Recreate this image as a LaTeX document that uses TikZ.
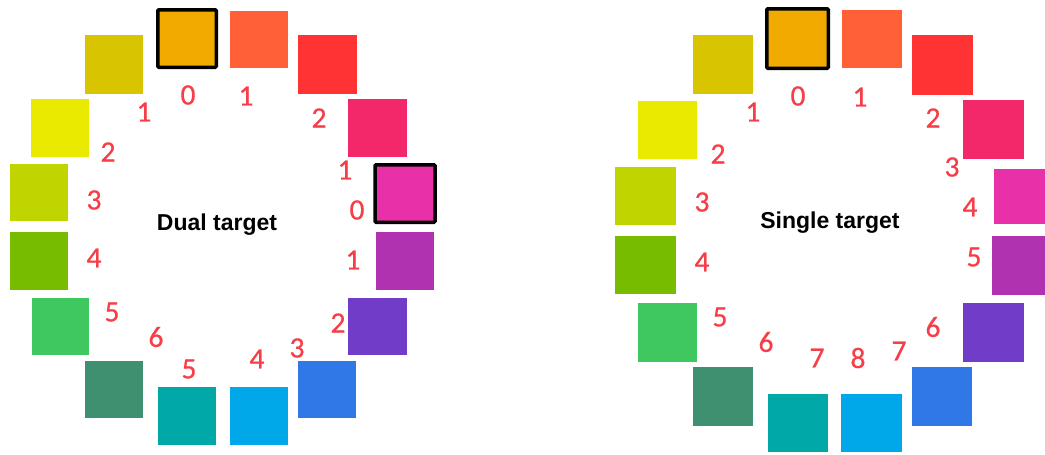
\documentclass[tikz,border=0pt]{standalone}
\usepackage{fontspec}
\setmainfont{Carlito}
\newfontfamily\titlefont{Liberation Sans}
\newfontfamily\numfont[FakeBold=0.6]{Carlito}
\definecolor{cOrange}{RGB}{240,170,0}
\definecolor{cOrangeRed}{RGB}{255,96,56}
\definecolor{cRed}{RGB}{255,51,51}
\definecolor{cPink}{RGB}{242,40,106}
\definecolor{cMagenta}{RGB}{232,48,168}
\definecolor{cPurpleMag}{RGB}{176,50,176}
\definecolor{cPurple}{RGB}{112,60,200}
\definecolor{cBlue}{RGB}{48,120,232}
\definecolor{cSky}{RGB}{0,168,234}
\definecolor{cTeal}{RGB}{0,168,168}
\definecolor{cDarkGreen}{RGB}{62,144,112}
\definecolor{cGreen}{RGB}{64,200,96}
\definecolor{cLime}{RGB}{120,188,0}
\definecolor{cYellowGreen}{RGB}{192,212,0}
\definecolor{cYellow}{RGB}{234,234,0}
\definecolor{cOlive}{RGB}{216,196,0}
\definecolor{cLabel}{RGB}{245,62,72}
\tikzset{
  sqL/.style={rectangle, inner sep=0pt, minimum width=58pt, minimum height=58pt, draw=none},
  sqR/.style={rectangle, inner sep=0pt, minimum width=60pt, minimum height=59pt, draw=none},
  target/.style={draw=black, line width=3.5pt, rounded corners=1pt},
  num/.style={inner sep=0pt, text=cLabel, font=\numfont\fontsize{29.5}{31}\selectfont},
  title/.style={inner sep=0pt, anchor=base, font=\titlefont\bfseries\fontsize{23}{26}\selectfont}
}
\begin{document}
\begin{tikzpicture}[x=1pt,y=-1pt]
\useasboundingbox (0,0) rectangle (1045,455);
\begin{scope}
\clip (0,0) rectangle (1045,455);
% ---------------- left ring: Dual target ----------------
\node[sqL, fill=cOrange, target, minimum width=58.5pt, minimum height=57.5pt] (L0) at (187,38.5) {};
\node[sqL, fill=cOrangeRed, minimum height=57pt] (L1) at (259,39.5) {};
\node[sqL, fill=cRed, minimum width=59pt, minimum height=59pt] (L2) at (327.5,64.5) {};
\node[sqL, fill=cPink, minimum width=59pt] (L3) at (377.5,128) {};
\node[sqL, fill=cMagenta, target, minimum width=60pt, minimum height=57.5pt] (L4) at (405,193.5) {};
\node[sqL, fill=cPurpleMag] (L5) at (405,261) {};
\node[sqL, fill=cPurple, minimum width=59pt, minimum height=57pt] (L6) at (377.5,326.5) {};
\node[sqL, fill=cBlue, minimum height=57pt] (L7) at (327,389.5) {};
\node[sqL, fill=cSky] (L8) at (259,416) {};
\node[sqL, fill=cTeal] (L9) at (187,416) {};
\node[sqL, fill=cDarkGreen, minimum height=57pt] (L10) at (114,389.5) {};
\node[sqL, fill=cGreen, minimum width=57pt, minimum height=57pt] (L11) at (60.5,326.5) {};
\node[sqL, fill=cLime] (L12) at (39,261) {};
\node[sqL, fill=cYellowGreen, minimum height=57pt] (L13) at (39,192.5) {};
\node[sqL, fill=cYellow] (L14) at (60,128) {};
\node[sqL, fill=cOlive, minimum height=59pt] (L15) at (114,64.5) {};
% labels
\node[num] (l0) at (188,95) {0};
\node[num] (l1) at (246,96) {1};
\node[num] (l2) at (319,118) {2};
\node[num] (l3) at (345,170) {1};
\node[num] (l4) at (357,210) {0};
\node[num] (l5) at (353,260) {1};
\node[num] (l6) at (338,323) {2};
\node[num] (l7) at (297,348) {3};
\node[num] (l8) at (257,359) {4};
\node[num] (l9) at (189,369) {5};
\node[num] (l10) at (156,337) {6};
\node[num] (l11) at (112,312) {5};
\node[num] (l12) at (94,258) {4};
\node[num] (l13) at (94,200) {3};
\node[num] (l14) at (108,152) {2};
\node[num] (l15) at (144,112) {1};
\node[title] (tL) at (217,230) {Dual target};
% ---------------- right ring: Single target ----------------
\node[sqR, fill=cOrange, target, minimum width=61.5pt, minimum height=59.5pt] (R0) at (797.5,38.5) {};
\node[sqR, fill=cOrangeRed, minimum height=58pt] (R1) at (872,39) {};
\node[sqR, fill=cRed, minimum width=61pt, minimum height=60pt] (R2) at (942.5,65) {};
\node[sqR, fill=cPink, minimum width=61pt] (R3) at (993.5,129.5) {};
\node[sqR, fill=cMagenta, minimum height=55pt] (R4) at (1024,196.5) {};
\node[sqR, fill=cPurpleMag] (R5) at (1022,265.5) {};
\node[sqR, fill=cPurple, minimum width=61pt] (R6) at (993.5,332.5) {};
\node[sqR, fill=cBlue] (R7) at (942,396.5) {};
\node[sqR, fill=cSky, minimum width=61pt, minimum height=58pt] (R8) at (871.5,423) {};
\node[sqR, fill=cTeal, minimum height=58pt] (R9) at (798,423) {};
\node[sqR, fill=cDarkGreen] (R10) at (723,396.5) {};
\node[sqR, fill=cGreen, minimum width=59pt] (R11) at (667.5,332.5) {};
\node[sqR, fill=cLime, minimum width=61pt, minimum height=58pt] (R12) at (645.5,265) {};
\node[sqR, fill=cYellowGreen, minimum width=61pt, minimum height=58pt] (R13) at (645.5,196) {};
\node[sqR, fill=cYellow, minimum width=59pt, minimum height=58pt] (R14) at (667.5,130) {};
\node[sqR, fill=cOlive] (R15) at (723,64.5) {};
% labels
\node[num] (r0) at (798,96) {0};
\node[num] (r1) at (860,97) {1};
\node[num] (r2) at (933,118) {2};
\node[num] (r3) at (952,167) {3};
\node[num] (r4) at (970,207) {4};
\node[num] (r5) at (974,257) {5};
\node[num] (r6) at (933,327) {6};
\node[num] (r7) at (899,351) {7};
\node[num] (r8) at (858,358) {8};
\node[num] (r9) at (817,358) {7};
\node[num] (r10) at (766,342) {6};
\node[num] (r11) at (720,317) {5};
\node[num] (r12) at (702,262) {4};
\node[num] (r13) at (702,202) {3};
\node[num] (r14) at (718,154) {2};
\node[num] (r15) at (753,112) {1};
\node[title] (tR) at (830,228) {Single target};
\end{scope}
\end{tikzpicture}
\end{document}
